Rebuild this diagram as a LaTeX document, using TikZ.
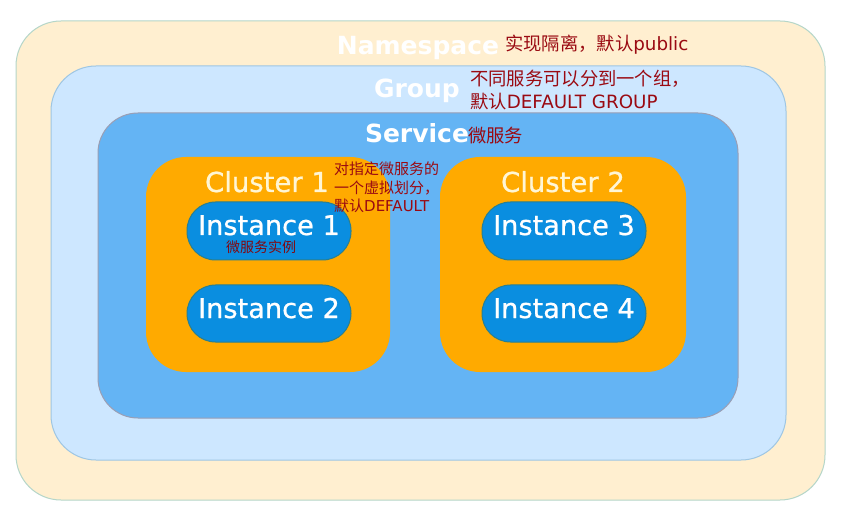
\documentclass[tikz,border=0pt]{standalone}
\usepackage{fontspec}
\setmainfont{DejaVu Sans}
\newfontfamily\zhfont{Noto Sans CJK SC}
\newfontfamily\medfont[FakeBold=0.8]{DejaVu Sans}
\newcommand{\zh}[1]{{\zhfont #1}}
\definecolor{nsfill}{HTML}{FFEFD0}
\definecolor{nsdraw}{HTML}{B5D6C9}
\definecolor{grfill}{HTML}{CDE7FF}
\definecolor{grdraw}{HTML}{9EC6E3}
\definecolor{svfill}{HTML}{64B4F4}
\definecolor{svdraw}{HTML}{9A9FB5}
\definecolor{clfill}{HTML}{FFAA00}
\definecolor{infill}{HTML}{0A8EE0}
\definecolor{indraw}{HTML}{2A7F8F}
\definecolor{cltext}{HTML}{FFF6D5}
\definecolor{anred}{HTML}{9A0A12}
\tikzset{
  box/.style={rectangle, inner sep=0pt, outer sep=0pt, line width=1pt},
  nsbox/.style={box, fill=nsfill, draw=nsdraw, rounded corners=45pt},
  grbox/.style={box, fill=grfill, draw=grdraw, rounded corners=45pt},
  svbox/.style={box, fill=svfill, draw=svdraw, rounded corners=40pt},
  clbox/.style={box, fill=clfill, rounded corners=40pt},
  inbox/.style={box, fill=infill, draw=indraw, rounded corners=28.5pt, minimum width=164pt},
  biglabel/.style={anchor=base, inner sep=0pt, text=white, font=\fontsize{25}{30}\selectfont\bfseries},
  cllabel/.style={anchor=base, inner sep=0pt, text=cltext, font=\medfont\fontsize{27.5}{30}\selectfont},
  inlabel/.style={anchor=base, inner sep=0pt, text=white, font=\medfont\fontsize{27.2}{30}\selectfont},
  note/.style={anchor=base west, inner sep=0pt, text=anred, font=\fontsize{18.3}{20}\selectfont},
  smallnote/.style={note, font=\fontsize{15}{18}\selectfont},
}
\begin{document}
\begin{tikzpicture}[x=1pt,y=-1pt]
\useasboundingbox (0,0) rectangle (841,513);
\fill[white] (0,0) rectangle (841,513);
% containers
\node[nsbox, minimum width=809pt, minimum height=479pt] (ns) at (420.5,260.5) {};
\node[grbox, minimum width=735pt, minimum height=394pt] (gr) at (418.5,263) {};
\node[svbox, minimum width=640pt, minimum height=305pt] (sv) at (418,265.5) {};
\node[clbox, minimum width=244pt, minimum height=215pt] (cl1) at (268,264.5) {};
\node[clbox, minimum width=246pt, minimum height=215pt] (cl2) at (563,264.5) {};
\node[inbox, minimum height=58pt] (in1) at (269,231) {};
\node[inbox, minimum height=57pt] (in2) at (269,313.5) {};
\node[inbox, minimum height=58pt] (in3) at (564,231) {};
\node[inbox, minimum height=57pt] (in4) at (564,313.5) {};
% labels
\node[biglabel] (tns) at (418,55) {Namespace};
\node[biglabel] (tgr) at (417,98) {Group};
\node[biglabel] (tsv) at (417,143) {Service};
\node[cllabel] (tcl1) at (267,192) {Cluster 1};
\node[cllabel] (tcl2) at (563,192) {Cluster 2};
\node[inlabel] (tin1) at (269,235) {Instance 1};
\node[inlabel] (tin2) at (269,318) {Instance 2};
\node[inlabel] (tin3) at (564,235) {Instance 3};
\node[inlabel] (tin4) at (564,318) {Instance 4};
% notes
\node[note] (n1) at (505,51) {\zh{实现隔离，默认}public};
\node[note] (n2a) at (470,86) {\zh{不同服务可以分到一个组，}};
\node[note] (n2b) at (470,109) {\zh{默认}DEFAULT GROUP};
\node[note] (n3) at (468,143) {\zh{微服务}};
\node[smallnote] (n4a) at (334,175) {\zh{对指定微服务的}};
\node[smallnote] (n4b) at (334,193.5) {\zh{一个虚拟划分，}};
\node[smallnote] (n4c) at (334,212) {\zh{默认}DEFAULT};
\node[note, font=\fontsize{14}{18}\selectfont, text=anred!85!black] (n5) at (226,253) {\zh{微服务实例}};
\end{tikzpicture}
\end{document}
